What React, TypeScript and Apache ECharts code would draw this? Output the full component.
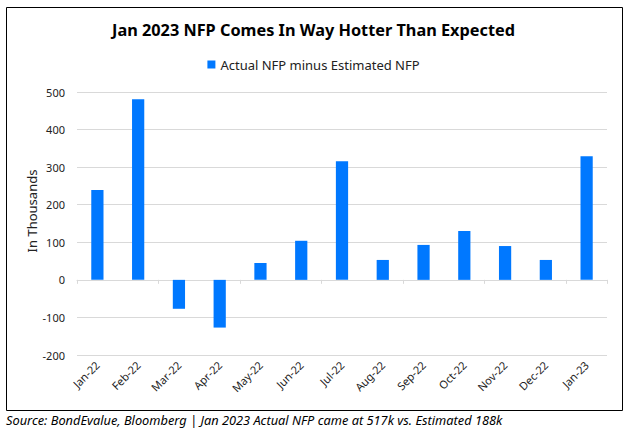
import React, { useEffect, useRef } from "react";
import * as echarts from "echarts";

const categories = ["Jan-22", "Feb-22", "Mar-22", "Apr-22", "May-22", "Jun-22", "Jul-22", "Aug-22", "Sep-22", "Oct-22", "Nov-22", "Dec-22", "Jan-23"];
const surprise = [239, 481, -77, -127, 45, 104, 316, 53, 93, 130, 90, 53, 329];
const seriesName = "Actual NFP minus Estimated NFP";
const titleText = "Jan 2023 NFP Comes In Way Hotter Than Expected";
const footerText = "Source: BondEvalue, Bloomberg | Jan 2023 Actual NFP came at 517k vs. Estimated 188k";
const yName = "In Thousands";

const FONT = "'Noto Sans', 'Open Sans', sans-serif";
const BLUE = "#0078FF";

export default function App() {
  const ref = useRef<HTMLDivElement>(null);
  useEffect(() => {
    if (!ref.current) return;
    const chart = echarts.init(ref.current, undefined, { renderer: "svg" });
    chart.setOption({
      animation: false,
      backgroundColor: "#ffffff",
      textStyle: { fontFamily: FONT },
      title: {
        text: titleText,
        left: "center",
        top: 17,
        textStyle: { fontFamily: FONT, fontSize: 16.3, fontWeight: "bold", color: "#000" },
      },
      legend: {
        data: [seriesName],
        top: 53,
        left: "center",
        icon: "rect",
        itemWidth: 8,
        itemHeight: 8,
        itemGap: 4,
        textStyle: { fontFamily: FONT, fontSize: 13, color: "#222" },
      },
      grid: { left: 77, right: 20, top: 92, bottom: 77 },
      xAxis: [
        {
          type: "category",
          data: categories,
          position: "bottom",
          axisLine: { show: false, onZero: false },
          axisTick: { show: false },
          axisLabel: { rotate: 45, fontSize: 11, color: "#222", fontFamily: FONT, margin: 8, interval: 0 },
          splitLine: { show: false },
        },
        {
          type: "category",
          data: categories,
          position: "bottom",
          axisLine: { show: true, onZero: true, lineStyle: { color: "#d9d9d9", width: 1 } },
          axisTick: { show: true, length: 4, lineStyle: { color: "#d9d9d9" } },
          axisLabel: { show: false },
          splitLine: { show: false },
        },
      ],
      yAxis: {
        type: "value",
        min: -200,
        max: 500,
        interval: 100,
        axisLine: { show: false },
        axisTick: { show: false },
        axisLabel: { fontSize: 11, color: "#222", fontFamily: FONT, margin: 12 },
        splitLine: { lineStyle: { color: "#d9d9d9", width: 1 } },
      },
      series: [
        {
          name: seriesName,
          type: "bar",
          xAxisIndex: 0,
          data: surprise,
          barWidth: "30%",
          itemStyle: { color: BLUE },
        },
      ],
      graphic: [
        {
          type: "rect",
          shape: { x: 6.5, y: 7.5, width: 616, height: 403 },
          style: { fill: "none", stroke: "#000", lineWidth: 1 },
          silent: true,
        },
        {
          type: "text",
          x: 32,
          y: 211,
          rotation: Math.PI / 2,
          style: {
            text: yName,
            font: `13px ${FONT}`,
            fill: "#222",
            textAlign: "center",
            textVerticalAlign: "middle",
          },
        },
        {
          type: "text",
          left: 6,
          top: 413,
          style: { text: footerText, font: `italic 12.8px ${FONT}`, fill: "#000" },
        },
      ],
    });
    return () => chart.dispose();
  }, []);
  return <div ref={ref} style={{ position: "fixed", left: 0, top: 0, width: 627, height: 432, background: "#fff" }} />;
}
